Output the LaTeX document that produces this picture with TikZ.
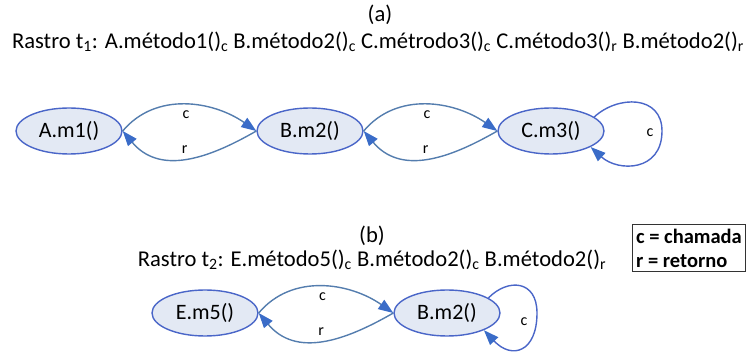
\documentclass[tikz,border=0pt]{standalone}
\usepackage{fontspec}
\setmainfont{Carlito}
\usetikzlibrary{arrows.meta,shapes.geometric}
\definecolor{nodefill}{HTML}{E3E9F4}
\definecolor{nodeline}{HTML}{4A66C8}
\definecolor{edgeline}{HTML}{547DAE}
\definecolor{tipcol}{HTML}{3A6CC8}
\tikzset{
  meth/.style={ellipse, draw=nodeline, fill=nodefill, line width=1.4pt, minimum width=106pt, minimum height=46pt, inner sep=0pt, font=\fontsize{22}{24}\selectfont},
  edge/.style={draw=edgeline, line width=1.4pt, -{Triangle[length=15pt,width=11pt,fill=tipcol,color=tipcol]}},
  loopedge/.style={draw=nodeline, line width=1.4pt, -{Triangle[length=15pt,width=11pt,fill=tipcol,color=tipcol]}},
  lbl/.style={font=\fontsize{16}{17}\selectfont, inner sep=1pt},
  title/.style={font=\fontsize{22.6}{24}\selectfont, inner sep=0pt},
}
\begin{document}
\begin{tikzpicture}[x=1pt,y=-1pt]
\useasboundingbox (0,0) rectangle (756,358);
% (a)
\node[title] (ta) at (380,15) {(a)};
\node[title] (ra) at (378,42) {Rastro t\textsubscript{1}: A.método1()\textsubscript{c} B.método2()\textsubscript{c} C.métrodo3()\textsubscript{c} C.método3()\textsubscript{r} B.método2()\textsubscript{r}};
\node[meth] (A) at (69,131) {A.m1()};
\node[meth] (B) at (310,131) {B.m2()};
\node[meth] (C) at (551,131) {C.m3()};
\draw[edge] (A.east) to[out=50,in=145] node[lbl,pos=0.5,below=4pt] (ac) {c} (B.west);
\draw[edge] (B.west) to[out=-150,in=-50,looseness=1.1] node[lbl,pos=0.5,above=3pt] (br) {r} (A.east);
\draw[edge] (B.east) to[out=50,in=145] node[lbl,pos=0.5,below=4pt] (bc) {c} (C.west);
\draw[edge] (C.west) to[out=-150,in=-50,looseness=1.1] node[lbl,pos=0.5,above=3pt] (cr) {r} (B.east);
\coordinate (cl) at (662,131);
\draw[loopedge] (C.18) .. controls (618,95) and (662,95) .. (cl) .. controls (662,172) and (618,172) .. (C.-22);
\node[lbl] (cc) at (650,133) {c};
% (b)
\node[title] (tb) at (372,236) {(b)};
\node[title] (rb) at (372,260) {Rastro t\textsubscript{2}: E.método5()\textsubscript{c} B.método2()\textsubscript{c} B.método2()\textsubscript{r}};
\node[meth] (E) at (205,313) {E.m5()};
\node[meth] (B2) at (447,313) {B.m2()};
\draw[edge] (E.east) to[out=50,in=145] node[lbl,pos=0.5,below=4pt] (ec) {c} (B2.west);
\draw[edge] (B2.west) to[out=-150,in=-50,looseness=1.1] node[lbl,pos=0.5,above=3pt] (er) {r} (E.east);
\coordinate (bl) at (537,313);
\draw[loopedge] (B2.20) .. controls (508,278) and (537,280) .. (bl) .. controls (537,352) and (512,360) .. (B2.-25);
\node[lbl] (b2c) at (524,322) {c};
% legend
\node[draw=black!80, line width=0.8pt, align=left, inner sep=4pt, font=\bfseries\fontsize{20.5}{24}\selectfont] (leg) at (689,248) {c = chamada\\r = retorno};
\end{tikzpicture}
\end{document}
